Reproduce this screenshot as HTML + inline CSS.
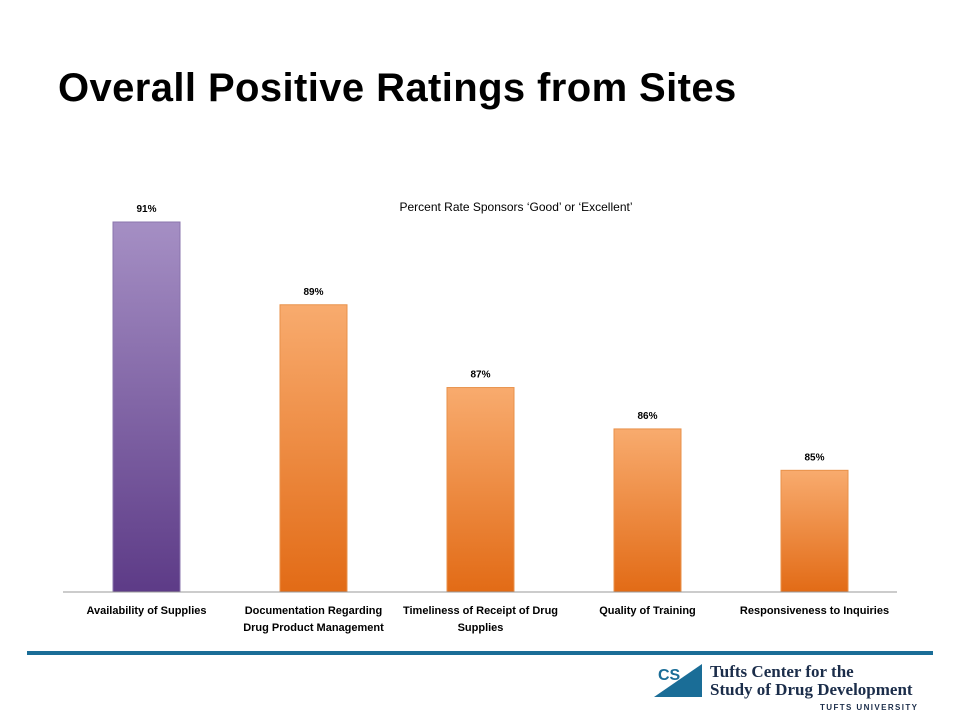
<!DOCTYPE html>
<html><head><meta charset="utf-8"><style>
body{margin:0;background:#fff;}
#root{position:relative;width:960px;height:720px;overflow:hidden;font-family:"Liberation Sans",sans-serif;}
</style></head><body>
<div id="root">
<div style="position:absolute;left:58px;top:66px;font-size:40px;font-weight:bold;color:#000;letter-spacing:0.4px;white-space:nowrap">Overall Positive Ratings from Sites</div>
<svg id="chart" width="960" height="720" style="position:absolute;left:0;top:0">
<defs>
<linearGradient id="gp" x1="0" y1="0" x2="0" y2="1"><stop offset="0" stop-color="#a58fc4"/><stop offset="1" stop-color="#5d3b87"/></linearGradient>
<linearGradient id="go" x1="0" y1="0" x2="0" y2="1"><stop offset="0" stop-color="#f8ab6e"/><stop offset="1" stop-color="#e26b16"/></linearGradient>
</defs>
<text x="516" y="211" font-size="12" text-anchor="middle" fill="#000">Percent Rate Sponsors ‘Good’ or ‘Excellent’</text>
<g id="bars"></g>
<line x1="63" y1="592" x2="897" y2="592" stroke="#999" stroke-width="1"/>
<rect x="27" y="651" width="906" height="4" fill="#1a6d97"/>
</svg>
<div style="position:absolute;left:652px;top:660px;">
<svg width="60" height="40" style="position:absolute;left:0;top:0">
<polygon points="2,37 50,37 50,4" fill="#1a6d97"/>
<text x="6" y="20" font-size="16" font-weight="bold" fill="#1a6d97">CS</text>
</svg>
<div style="position:absolute;left:58px;top:3px;font-family:'Liberation Serif',serif;font-weight:bold;font-size:17px;line-height:18px;color:#1b2d4a;white-space:nowrap">Tufts Center for the<br>Study of Drug Development</div>
<div style="position:absolute;left:168px;top:43px;font-size:8px;font-weight:bold;letter-spacing:1.4px;color:#1b2d4a;white-space:nowrap">TUFTS UNIVERSITY</div>
</div>
</div>
<script>
const categories=["Availability of Supplies","Documentation Regarding\nDrug Product Management","Timeliness of Receipt of Drug\nSupplies","Quality of Training","Responsiveness to Inquiries"];
const values=[91,89,87,86,85];
const labels=["91%","89%","87%","86%","85%"];
const yMin=82.06, yMax=91;
const ns="http://www.w3.org/2000/svg";
const x0=63,bandW=167,barW=67,base=592,topY=222;
function y(v){return base-(v-yMin)/(yMax-yMin)*(base-topY);}
function x(i){return x0+i*bandW+(bandW-barW)/2;}
const g=document.getElementById('bars');
values.forEach((v,i)=>{
 const r=document.createElementNS(ns,'rect');
 
 
 r.setAttribute('x',x(i));r.setAttribute('y',y(v));r.setAttribute('width',barW);r.setAttribute('height',base-y(v));
 r.setAttribute('fill',i===0?'url(#gp)':'url(#go)');
 r.setAttribute('stroke',i===0?'#8a74ad':'#e8914a');r.setAttribute('stroke-width','1');
 g.appendChild(r);
 const t=document.createElementNS(ns,'text');
 
 
 t.setAttribute('x',x(i)+barW/2);t.setAttribute('y',y(v)-10);t.setAttribute('text-anchor','middle');
 t.setAttribute('font-size','10');t.setAttribute('font-weight','bold');t.textContent=labels[i];
 g.appendChild(t);
 categories[i].split('\n').forEach((ln,k)=>{
  const c=document.createElementNS(ns,'text');
  
  
  c.setAttribute('x',x0+i*bandW+bandW/2);c.setAttribute('y',614+k*17);c.setAttribute('text-anchor','middle');
  c.setAttribute('font-size','11');c.setAttribute('font-weight','bold');c.textContent=ln;
  g.appendChild(c);
 });
});
</script>
</body></html>
